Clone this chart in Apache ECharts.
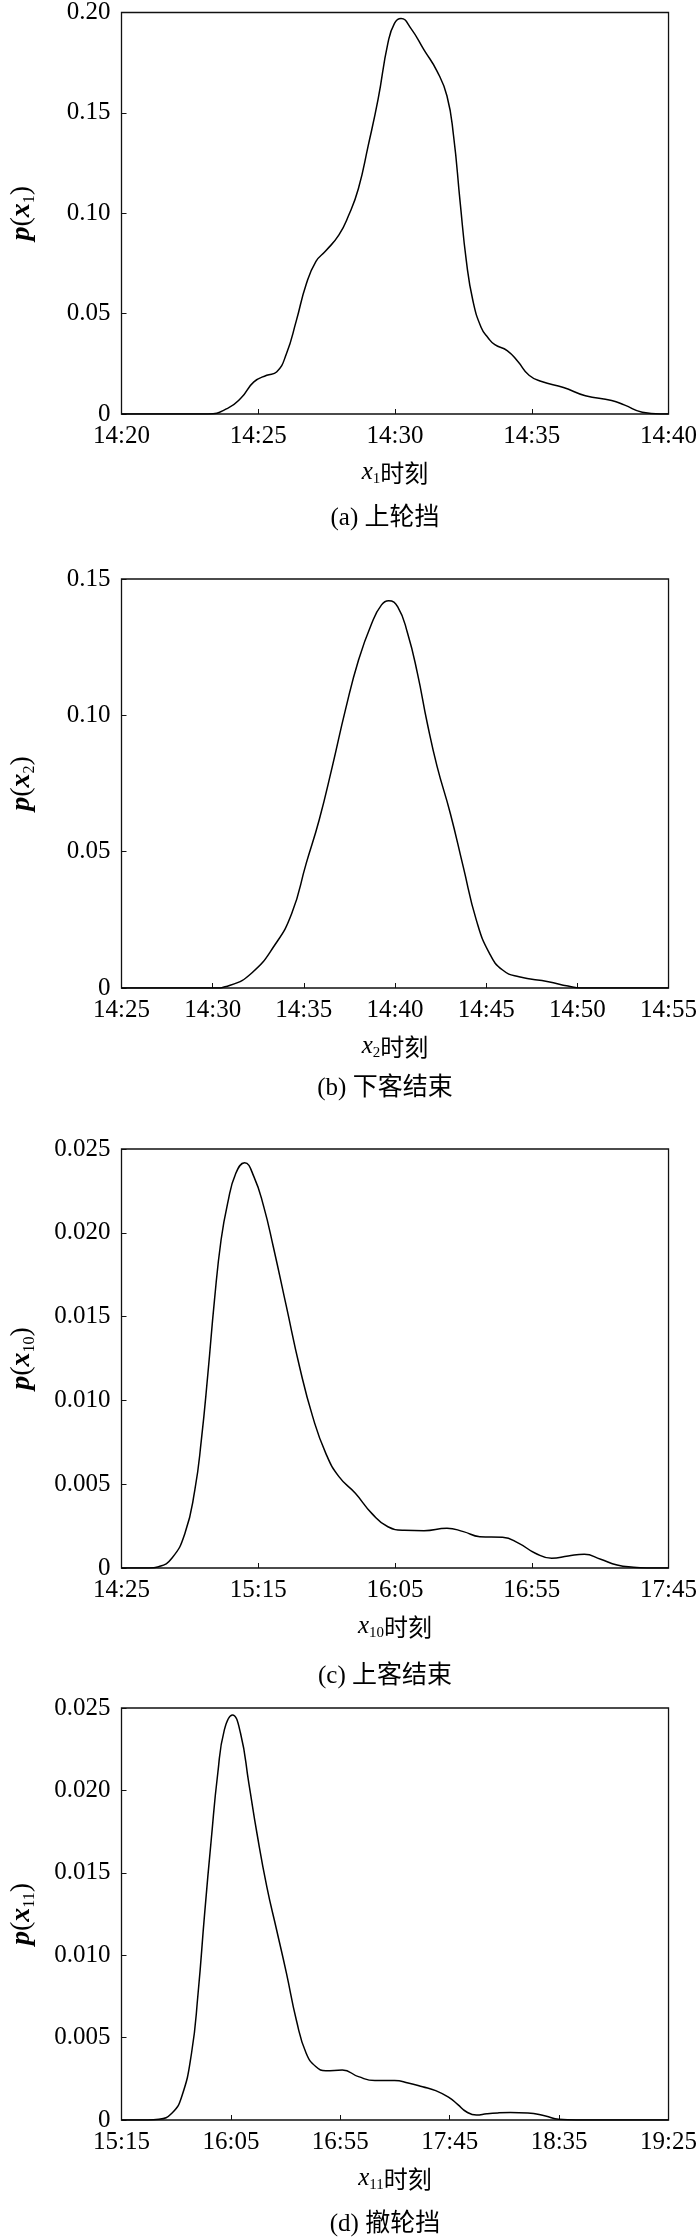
<!DOCTYPE html>
<html><head><meta charset="utf-8">
<script src="https://cdn.jsdelivr.net/npm/echarts@6/dist/echarts.min.js"></script>
<style>html,body{margin:0;padding:0;background:#fff}#c{width:700px;height:2239px}</style>
</head><body><div id="c"></div>
<script>
// ---- (a) 上轮挡 : minutes after 14:20 ----
const aTicks = ['14:20','14:25','14:30','14:35','14:40'];
const aMinutes = [0, 3.16, 3.88, 4.36, 4.84, 5.31, 5.67, 6.03, 6.39, 6.75, 7.11, 7.47, 7.95, 8.31, 8.66, 9.02, 9.38, 9.74, 9.98, 10.22, 10.58, 11.06, 11.54, 11.9, 12.14, 12.38, 12.61, 12.85, 13.15, 13.4, 13.65, 14.1, 14.5, 14.9, 15.36, 16.16, 16.96, 17.92, 18.4, 19.04, 19.7, 20];
const aDensity = [0, 0, 0.0028, 0.0078, 0.016, 0.0193, 0.0209, 0.030, 0.0464, 0.0645, 0.076, 0.0813, 0.0892, 0.0991, 0.1122, 0.1337, 0.1567, 0.1847, 0.1946, 0.1970, 0.1921, 0.1814, 0.1707, 0.1584, 0.1386, 0.1057, 0.076, 0.0563, 0.0431, 0.038, 0.0345, 0.0316, 0.026, 0.0193, 0.0162, 0.0132, 0.0091, 0.0067, 0.0044, 0.0009, 0, 0];

// ---- (b) 下客结束 : minutes after 14:25 ----
const bTicks = ['14:25','14:30','14:35','14:40','14:45','14:50','14:55'];
const bMinutes = [0, 5.0, 5.96, 7.16, 8.37, 9.33, 10.13, 10.84, 11.56, 12.28, 13.0, 13.72, 14.26, 14.65, 15.15, 15.69, 16.23, 16.77, 17.31, 18.03, 18.74, 19.46, 20.18, 20.9, 21.8, 23.41, 24.49, 25.2, 30];
const bDensity = [0, 0, 0.001, 0.0056, 0.0154, 0.0272, 0.0457, 0.0616, 0.0812, 0.102, 0.1203, 0.1337, 0.1405, 0.142, 0.1398, 0.1301, 0.1154, 0.0971, 0.0812, 0.0641, 0.0445, 0.0249, 0.0127, 0.0066, 0.0041, 0.0023, 0.0007, 0, 0];

// ---- (c) 上客结束 : minutes after 14:25 ----
const cTicks = ['14:25','15:15','16:05','16:55','17:45'];
const cMinutes = [0, 10, 13.6, 18.4, 23.2, 26.8, 29.2, 31.6, 34.0, 36.4, 38.8, 41.8, 45.0, 48.4, 52.0, 55.5, 60.3, 65.1, 69.9, 74.7, 79.5, 85.5, 91.5, 97.4, 103.4, 110.6, 119.0, 125.0, 131.0, 139.3, 145.3, 151.3, 157.3, 163.3, 169.2, 175.2, 181.2, 187.2, 192, 200];
const cDensity = [0, 0, 0.00008, 0.00058, 0.00207, 0.00465, 0.00764, 0.01162, 0.0160, 0.01957, 0.02176, 0.02355, 0.02418, 0.02335, 0.02156, 0.01917, 0.01559, 0.01201, 0.00903, 0.00684, 0.00545, 0.00446, 0.00326, 0.00246, 0.00225, 0.00223, 0.00237, 0.00217, 0.00187, 0.00183, 0.00147, 0.00088, 0.00058, 0.00072, 0.00082, 0.00052, 0.00018, 0.00004, 0, 0];

// ---- (d) 撤轮挡 : minutes after 15:15 ----
const dTicks = ['15:15','16:05','16:55','17:45','18:35','19:25'];
const dMinutes = [0, 12, 17.1, 23.0, 27.5, 32.0, 35.0, 38.0, 41.0, 44.0, 47.0, 50.7, 54.4, 58.2, 61.9, 66.4, 70.9, 75.4, 79.9, 84.4, 88.9, 93.4, 100.9, 108.3, 115.8, 124.8, 131, 137.6, 143.6, 149.6, 153.6, 157.6, 162.2, 167.0, 172.0, 177.7, 185.7, 193.8, 199.8, 207.8, 250];
const dDensity = [0, 0, 0.00004, 0.00041, 0.00141, 0.00405, 0.00769, 0.01254, 0.01699, 0.02104, 0.02367, 0.02458, 0.02347, 0.02043, 0.0174, 0.01416, 0.01153, 0.0089, 0.00607, 0.00405, 0.00323, 0.00299, 0.00303, 0.00263, 0.00239, 0.00239, 0.00225, 0.00202, 0.00178, 0.00137, 0.00095, 0.0005, 0.0003, 0.00038, 0.00043, 0.00045, 0.00043, 0.00024, 0.00004, 0, 0];

const captions = ['(a) 上轮挡', '(b) 下客结束', '(c) 上客结束', '(d) 撤轮挡'];
const subscripts = ['1', '2', '10', '11'];

const SERIF = '"Liberation Serif", "Times New Roman", serif';
const CJK = '"Noto Sans CJK SC", sans-serif';
const MIX = '"Liberation Serif", "Noto Sans CJK SC", serif';

const panels = [
  {ticks: aTicks, step: 5,  x: aMinutes, y: aDensity, yMax: 0.20,  yStep: 0.05,  dec: 2, top: 9,    height: 405, cap: 518},
  {ticks: bTicks, step: 5,  x: bMinutes, y: bDensity, yMax: 0.15,  yStep: 0.05,  dec: 2, top: 579,  height: 409, cap: 1088},
  {ticks: cTicks, step: 50, x: cMinutes, y: cDensity, yMax: 0.025, yStep: 0.005, dec: 3, top: 1149, height: 419, cap: 1676},
  {ticks: dTicks, step: 50, x: dMinutes, y: dDensity, yMax: 0.025, yStep: 0.005, dec: 3, top: 1708, height: 412, cap: 2224}
];

const richX = {
  i: {fontFamily: SERIF, fontStyle: 'italic', fontSize: 25, color: '#000'},
  s: {fontFamily: SERIF, fontSize: 15, color: '#000', padding: [14, 0, 0, 0]},
  c: {fontFamily: CJK, fontSize: 24, color: '#000'}
};
const richY = {
  bi: {fontFamily: SERIF, fontStyle: 'italic', fontWeight: 'bold', fontSize: 28, color: '#000'},
  n: {fontFamily: SERIF, fontSize: 28, color: '#000'},
  s: {fontFamily: SERIF, fontSize: 16, color: '#000', padding: [15, 0, 0, 0]}
};

const grid = [], xAxis = [], yAxis = [], series = [], graphic = [];
panels.forEach((p, k) => {
  grid.push({left: 112, width: 557, top: p.top, height: p.height, show: true, borderColor: '#111', borderWidth: 1.3, backgroundColor: 'transparent'});
  xAxis.push({
    type: 'value', gridIndex: k, min: 0, max: (p.ticks.length - 1) * p.step, interval: p.step,
    axisLine: {show: false},
    axisTick: {show: true, inside: true, length: 5, lineStyle: {color: '#111', width: 1}},
    splitLine: {show: false},
    axisLabel: {formatter: v => p.ticks[Math.round(v / p.step)], fontFamily: SERIF, fontSize: 25, color: '#000', margin: 10},
    name: '{i|x}{s|' + subscripts[k] + '}{c|时刻}', nameLocation: 'middle', nameGap: 44,
    nameTextStyle: {rich: richX}
  });
  yAxis.push({
    type: 'value', gridIndex: k, min: 0, max: p.yMax, interval: p.yStep,
    axisLine: {show: false},
    axisTick: {show: true, inside: true, length: 5, lineStyle: {color: '#111', width: 1}},
    splitLine: {show: false},
    axisLabel: {formatter: v => v === 0 ? '0' : v.toFixed(p.dec), fontFamily: SERIF, fontSize: 25, color: '#000', margin: 11},
    name: '{bi|p}{n|(}{bi|x}{s|' + subscripts[k] + '}{n|)}', nameLocation: 'middle', nameRotate: 90, nameGap: 84,
    nameTextStyle: {rich: richY}
  });
  series.push({
    type: 'line', xAxisIndex: k, yAxisIndex: k,
    data: p.x.map((m, j) => [m, p.y[j]]),
    showSymbol: false, smooth: 0.5,
    lineStyle: {color: '#000', width: 1.5}, itemStyle: {color: '#000'}
  });
  graphic.push({
    type: 'text', x: 385, y: p.cap,
    style: {text: captions[k], fontFamily: MIX, fontSize: 25, fill: '#000', textAlign: 'center', textVerticalAlign: 'middle'}
  });
});

const chart = echarts.init(document.getElementById('c'), null, {renderer: 'canvas'});
chart.setOption({
  animation: false,
  backgroundColor: '#fff',
  grid, xAxis, yAxis, series, graphic
});
</script>
</body></html>
